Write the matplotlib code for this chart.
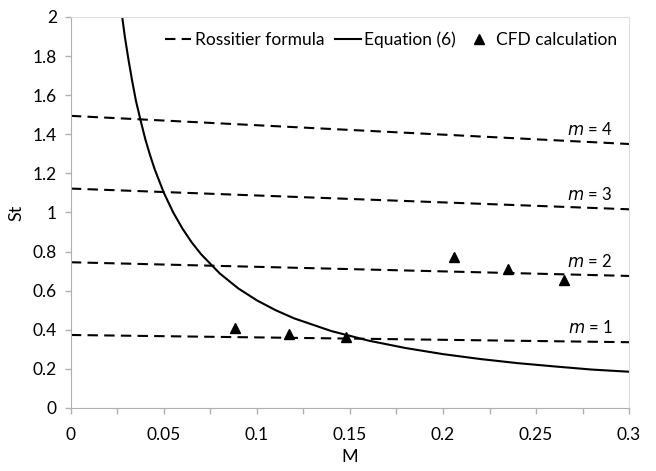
import matplotlib.pyplot as plt
from matplotlib.ticker import MultipleLocator

plt.rcParams['font.family'] = ['Lato', 'DejaVu Sans']

# Rossiter formula lines: St at M = 0 and M = 0.3
ROSSITER_M = [0.0, 0.3]
ROSSITER_ST = {
    1: [0.373, 0.336],
    2: [0.745, 0.675],
    3: [1.122, 1.016],
    4: [1.494, 1.350],
}

# Equation (6) curve
EQ_M = [0.0276, 0.029, 0.031, 0.033, 0.035, 0.0375, 0.04, 0.0425, 0.045, 0.05,
        0.055, 0.06, 0.065, 0.07, 0.08, 0.09, 0.10, 0.11, 0.12, 0.14, 0.16,
        0.18, 0.20, 0.22, 0.24, 0.26, 0.28, 0.30]
EQ_ST = [2.00, 1.90, 1.78, 1.67, 1.57, 1.47, 1.375, 1.295, 1.222, 1.10,
         1.00, 0.917, 0.846, 0.786, 0.688, 0.611, 0.550, 0.500, 0.458, 0.393,
         0.344, 0.306, 0.275, 0.250, 0.229, 0.212, 0.196, 0.185]

# CFD calculation points
CFD_M = [0.088, 0.117, 0.148, 0.206, 0.235, 0.265]
CFD_ST = [0.41, 0.378, 0.363, 0.774, 0.711, 0.655]

fig = plt.figure(figsize=(6.56, 4.71), dpi=100)
ax = fig.add_axes([0.108, 0.134, 0.851, 0.830])

for m, st in ROSSITER_ST.items():
    ax.plot(ROSSITER_M, st, color='black', lw=1.5, ls=(0, (5, 3)),
            label='Rossitier formula' if m == 1 else None)
    ax.text(0.291, st[1] + 0.03, f'$m$ = {m}', ha='right', va='bottom',
            fontsize=12)

ax.plot(EQ_M, EQ_ST, color='black', lw=1.5, label='Equation (6)')
ax.plot(CFD_M, CFD_ST, ls='none', marker='^', color='black', ms=6.5,
        label='CFD calculation')

ax.set_xlim(0, 0.3)
ax.set_ylim(0, 2)
ax.xaxis.set_minor_locator(MultipleLocator(0.025))
ax.set_xticks([0, 0.05, 0.1, 0.15, 0.2, 0.25, 0.3])
ax.set_xticklabels(['0', '0.05', '0.1', '0.15', '0.2', '0.25', '0.3'])
ax.set_yticks([0, 0.2, 0.4, 0.6, 0.8, 1.0, 1.2, 1.4, 1.6, 1.8, 2.0])
ax.set_yticklabels(['0', '0.2', '0.4', '0.6', '0.8', '1', '1.2', '1.4',
                    '1.6', '1.8', '2'])
ax.tick_params(axis='both', which='both', direction='out', length=4,
               color='#b0b0b0', labelsize=12.5, width=1)
ax.tick_params(axis='x', pad=10)
ax.tick_params(axis='y', pad=6)

for side in ['left', 'bottom']:
    ax.spines[side].set_color('#b0b0b0')
for side in ['top', 'right']:
    ax.spines[side].set_color('#dcdcdc')

ax.set_xlabel('M', fontsize=13, labelpad=4)
ax.set_ylabel('St', fontsize=13, labelpad=6)

ax.legend(loc='upper right', ncol=3, frameon=False, fontsize=12.5,
          handlelength=1.5, handletextpad=0.2, columnspacing=0.6,
          borderaxespad=0.3, bbox_to_anchor=(1.0, 0.995))

fig.savefig('out.png', dpi=100, facecolor='white')
